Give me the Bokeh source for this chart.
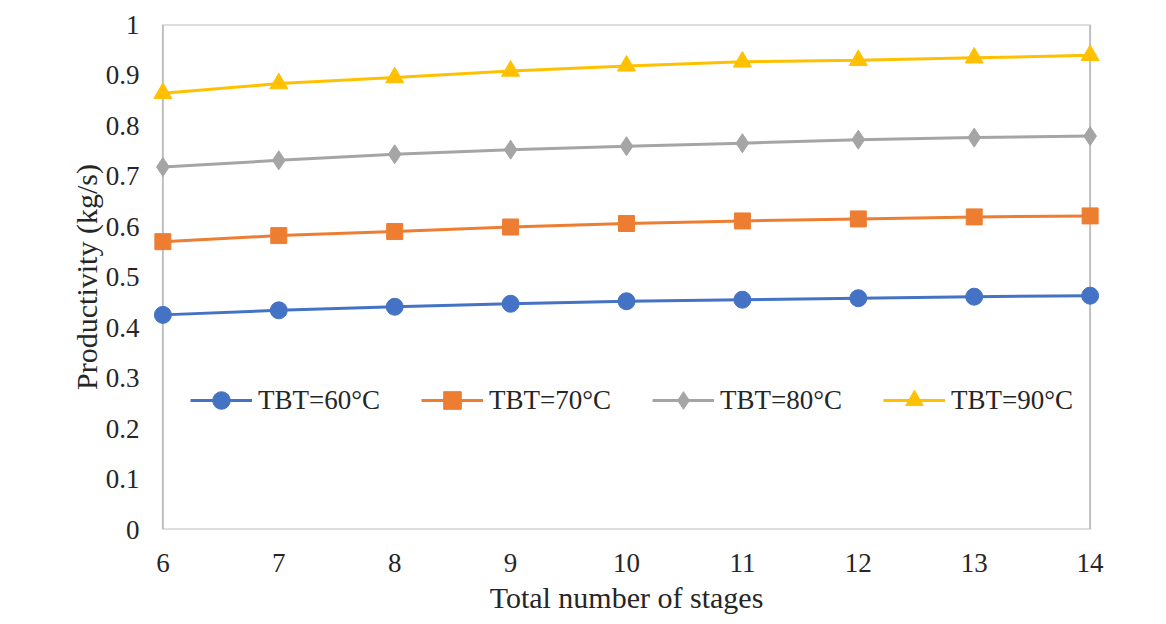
from bokeh.plotting import figure
from bokeh.models import Range1d, FixedTicker, CustomJSTickFormatter, Legend, LegendItem, ColumnDataSource
from bokeh.embed import file_html
from bokeh.resources import INLINE

# ---- data ----
stages = [6, 7, 8, 9, 10, 11, 12, 13, 14]
tbt60 = [0.425, 0.434, 0.441, 0.447, 0.452, 0.455, 0.458, 0.461, 0.463]
tbt70 = [0.570, 0.582, 0.590, 0.599, 0.606, 0.611, 0.615, 0.619, 0.621]
tbt80 = [0.718, 0.731, 0.743, 0.752, 0.759, 0.765, 0.772, 0.776, 0.779]
tbt90 = [0.864, 0.883, 0.895, 0.908, 0.918, 0.926, 0.929, 0.934, 0.939]
series_names = ["TBT=60°C", "TBT=70°C", "TBT=80°C", "TBT=90°C"]
y_ticks = [0, 0.1, 0.2, 0.3, 0.4, 0.5, 0.6, 0.7, 0.8, 0.9, 1.0]
y_min, y_max = 0, 1
x_label = "Total number of stages"
y_label = "Productivity (kg/s)"

colors = ["#4472C4", "#ED7D31", "#A5A5A5", "#FFC000"]
markers = ["circle", "square", "diamond", "triangle"]
msizes = [17, 16, 19, 18]
FONT = "Liberation Serif"
TXT = "#262626"

xpad = 0.15
p = figure(width=1158, height=616, output_backend="svg", toolbar_location=None,
           x_range=Range1d(min(stages) - xpad, max(stages) + xpad),
           y_range=Range1d(y_min, y_max),
           min_border_left=145, min_border_right=51,
           min_border_top=24, min_border_bottom=86)
p.outline_line_color = None
p.grid.visible = False
p.background_fill_color = "white"
p.border_fill_color = "white"

# plot-area box
p.quad(left=[min(stages)], right=[max(stages)], bottom=[y_min], top=[y_max],
       fill_color=None, line_color="#BFBFBF", line_width=2)

items = []
for vals, name, c, m, s in zip([tbt60, tbt70, tbt80, tbt90], series_names, colors, markers, msizes):
    src = ColumnDataSource(dict(x=stages, y=vals))
    r1 = p.line("x", "y", source=src, line_color=c, line_width=3)
    r2 = p.scatter("x", "y", source=src, marker=m, size=s, fill_color=c, line_color=c)
    items.append(LegendItem(label=name, renderers=[r1, r2]))

legend = Legend(items=items, orientation="horizontal", location=(45, 107),
                glyph_width=62, glyph_height=44, label_height=44,
                label_standoff=6, spacing=41, padding=0, margin=0,
                border_line_color=None, background_fill_alpha=0,
                label_text_font=FONT, label_text_font_size="27px",
                label_text_color=TXT)
p.add_layout(legend, "center")

# axes
p.xaxis.ticker = FixedTicker(ticks=stages)
p.yaxis.ticker = FixedTicker(ticks=y_ticks)
p.yaxis.formatter = CustomJSTickFormatter(code="return tick.toFixed(1).replace(/\\.0$/, '');")
for ax in (p.xaxis[0], p.yaxis[0]):
    ax.axis_line_color = None
    ax.major_tick_line_color = None
    ax.minor_tick_line_color = None
    ax.major_tick_out = 0
    ax.major_tick_in = 0
    ax.major_label_text_font = FONT
    ax.major_label_text_font_size = "27px"
    ax.major_label_text_color = TXT
    ax.axis_label_text_font = FONT
    ax.axis_label_text_font_size = "30px"
    ax.axis_label_text_font_style = "normal"
    ax.axis_label_text_color = TXT
p.xaxis.axis_label = x_label
p.yaxis.axis_label = y_label
p.xaxis.major_label_standoff = 24
p.xaxis.axis_label_standoff = 6
p.yaxis.major_label_standoff = 6
p.yaxis.axis_label_standoff = 0

open("out.html", "w").write(file_html(p, INLINE))
